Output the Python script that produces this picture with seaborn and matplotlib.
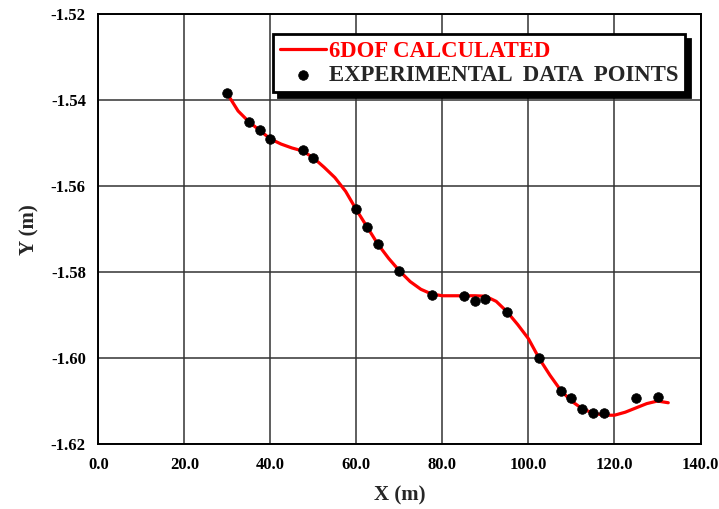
import matplotlib
matplotlib.use("Agg")
import matplotlib.pyplot as plt
import matplotlib.ticker as mtick
import seaborn as sns
import pandas as pd

sns.set_style("white")
plt.rcParams['font.family'] = ['Liberation Serif', 'DejaVu Serif']
plt.rcParams['font.weight'] = 'bold'

# 6DOF calculated trajectory
calc_x = [30, 32.5, 35, 37.5, 40, 42.5, 45, 47.5, 50, 52.5, 55, 57.5, 60, 62.5,
          65, 67.5, 70, 72.5, 75, 77.5, 80, 82.5, 85, 87.5, 90, 92.5, 95, 97.5,
          100, 102.5, 105, 107.5, 110, 112.5, 115, 117.5, 120, 122.5, 125,
          127.5, 130, 132.5]
calc_y = [-1.5385, -1.5425, -1.5450, -1.5470, -1.5490, -1.5502, -1.5511,
          -1.5518, -1.5534, -1.5556, -1.5580, -1.5612, -1.5655, -1.5695,
          -1.5735, -1.5768, -1.5797, -1.5822, -1.5840, -1.5851, -1.5855,
          -1.5855, -1.5855, -1.5855, -1.5856, -1.5868, -1.5892, -1.5922,
          -1.5955, -1.6001, -1.6040, -1.6075, -1.6100, -1.6118, -1.6128,
          -1.6133, -1.6133, -1.6126, -1.6116, -1.6106, -1.6100, -1.6104]

# experimental data points
exp_x = [30, 35, 37.5, 40, 47.5, 50, 60, 62.5, 65, 70, 77.5, 85, 87.5, 90, 95,
         102.5, 107.5, 110, 112.5, 115, 117.5, 125, 130]
exp_y = [-1.5382, -1.5450, -1.5469, -1.5491, -1.5516, -1.5534, -1.5654,
         -1.5694, -1.5734, -1.5797, -1.5853, -1.5855, -1.5867, -1.5863,
         -1.5892, -1.6001, -1.6076, -1.6094, -1.6119, -1.6128, -1.6128,
         -1.6094, -1.6090]

x_ticks = [0, 20, 40, 60, 80, 100, 120, 140]
y_ticks = [-1.62, -1.60, -1.58, -1.56, -1.54, -1.52]

calc = pd.DataFrame({'x': calc_x, 'y': calc_y})
exp = pd.DataFrame({'x': exp_x, 'y': exp_y})

fig = plt.figure(figsize=(7.19, 5.09), dpi=100)
ax = fig.add_axes([0.1367, 0.1277, 0.8376, 0.8442])

sns.lineplot(data=calc, x='x', y='y', color='red', linewidth=2.3,
             sort=False, ax=ax, label='6DOF CALCULATED', zorder=3)
sns.scatterplot(data=exp, x='x', y='y', color='black', s=48, edgecolor='black',
                linewidth=0.5, ax=ax, label='EXPERIMENTAL  DATA  POINTS',
                zorder=4)

ax.set_xlim(0, 140)
ax.set_ylim(-1.62, -1.52)
ax.set_xticks(x_ticks)
ax.set_yticks(y_ticks)
ax.xaxis.set_major_formatter(mtick.FormatStrFormatter('%.1f'))
ax.yaxis.set_major_formatter(mtick.FormatStrFormatter('%.2f'))
ax.xaxis.set_minor_locator(mtick.MultipleLocator(5))
ax.yaxis.set_minor_locator(mtick.MultipleLocator(0.005))
ax.tick_params(which='both', direction='in', top=False, right=False,
               colors='black', labelsize=12)
ax.tick_params(which='major', length=0, pad=9)
ax.tick_params(which='minor', length=4, width=1)
for lab in ax.get_xticklabels() + ax.get_yticklabels():
    lab.set_fontweight('bold')

ax.grid(True, which='major', color='#333333', linewidth=1.1)
for sp in ax.spines.values():
    sp.set_color('black')
    sp.set_linewidth(1.4)

ax.set_xlabel('X (m)', fontsize=15, fontweight='bold', labelpad=9)
ax.set_ylabel('Y (m)', fontsize=15, fontweight='bold', labelpad=8)

leg = ax.legend(loc='upper left', bbox_to_anchor=(0.2906, 0.954),
                borderaxespad=0, prop={'size': 16.4, 'weight': 'bold'},
                frameon=True, fancybox=False,
                edgecolor='black', framealpha=1, borderpad=0.3,
                labelspacing=0.12, handlelength=2.0, handletextpad=0.15,
                shadow={'color': 'black', 'alpha': 1, 'ox': 3.5, 'oy': -3.5})
leg.get_frame().set_linewidth(2)
leg.get_texts()[0].set_color('red')

fig.savefig('out.png', dpi=100)
